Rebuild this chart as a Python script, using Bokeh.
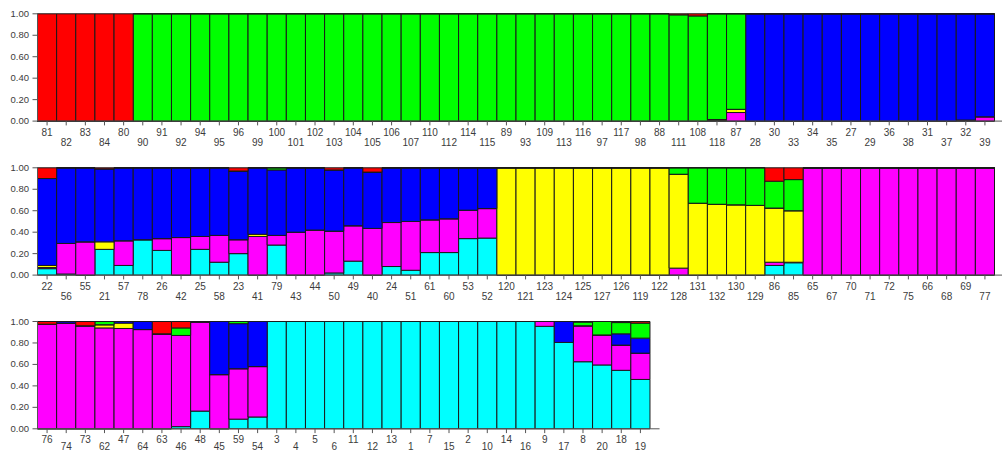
from bokeh.plotting import figure
from bokeh.models import ColumnDataSource, Range1d
from bokeh.layouts import column
from bokeh.embed import file_html
from bokeh.resources import INLINE
from bokeh.core.properties import value

# ---------------- data ----------------
clusters = ["cyan", "magenta", "yellow", "blue", "green", "red"]
colors = ["#00FFFF", "#FF00FF", "#FFFF00", "#0000FF", "#00FF00", "#FF0000"]
y_ticks = [0.0, 0.2, 0.4, 0.6, 0.8, 1.0]
y_tick_labels = ["0.00", "0.20", "0.40", "0.60", "0.80", "1.00"]

# Row 1
labels1 = ["81", "82", "83", "84", "80", "90", "91", "92", "94", "95",
           "96", "99", "100", "101", "102", "103", "104", "105", "106", "107",
           "110", "112", "114", "115", "89", "93", "109", "113", "116", "97",
           "117", "98", "88", "111", "108", "118", "87", "28", "30", "33",
           "34", "35", "27", "29", "36", "38", "31", "37", "32", "39"]
r1_cyan = [0, 0, 0, 0, 0, 0, 0, 0, 0, 0,
           0, 0, 0, 0, 0, 0, 0, 0, 0, 0,
           0, 0, 0, 0, 0, 0, 0, 0, 0, 0,
           0, 0, 0, 0, 0, 0, 0, 0, 0, 0,
           0, 0, 0, 0, 0, 0, 0, 0, 0, 0]
r1_magenta = [0, 0, 0, 0, 0, 0, 0, 0, 0, 0,
              0, 0, 0, 0, 0, 0, 0, 0, 0, 0,
              0, 0, 0, 0, 0, 0, 0, 0, 0, 0,
              0, 0, 0, 0, 0, 0.005, 0.08, 0, 0, 0,
              0, 0, 0, 0, 0, 0, 0, 0, 0.01, 0.04]
r1_yellow = [0, 0, 0, 0, 0, 0, 0, 0, 0, 0,
             0, 0, 0, 0, 0, 0, 0, 0, 0, 0,
             0, 0, 0, 0, 0, 0, 0, 0, 0, 0,
             0, 0, 0, 0, 0, 0.01, 0.03, 0, 0, 0,
             0, 0, 0, 0, 0, 0, 0, 0, 0, 0]
r1_blue = [0, 0, 0, 0, 0, 0, 0, 0, 0, 0,
           0, 0, 0, 0, 0, 0, 0, 0, 0, 0,
           0, 0, 0, 0, 0, 0, 0, 0, 0, 0,
           0, 0, 0, 0, 0, 0, 0, 1, 1, 1,
           1, 1, 1, 1, 1, 1, 1, 1, 0.99, 0.96]
r1_green = [0, 0, 0, 0, 0, 1, 1, 1, 1, 1,
            1, 1, 1, 1, 1, 1, 1, 1, 1, 1,
            1, 1, 1, 1, 1, 1, 1, 1, 1, 1,
            1, 1, 1, 0.99, 0.98, 0.985, 0.89, 0, 0, 0,
            0, 0, 0, 0, 0, 0, 0, 0, 0, 0]
r1_red = [1, 1, 1, 1, 1, 0, 0, 0, 0, 0,
          0, 0, 0, 0, 0, 0, 0, 0, 0, 0,
          0, 0, 0, 0, 0, 0, 0, 0, 0, 0,
          0, 0, 0, 0.01, 0.02, 0, 0, 0, 0, 0,
          0, 0, 0, 0, 0, 0, 0, 0, 0, 0]

# Row 2
labels2 = ["22", "56", "55", "21", "57", "78", "26", "42", "25", "58",
           "23", "41", "79", "43", "44", "50", "49", "40", "24", "51",
           "61", "60", "53", "52", "120", "121", "123", "124", "125", "127",
           "126", "119", "122", "128", "131", "132", "130", "129", "86", "85",
           "65", "67", "70", "71", "72", "75", "66", "68", "69", "77"]
r2_cyan = [0.06, 0.01, 0, 0.24, 0.09, 0.33, 0.23, 0, 0.24, 0.12,
           0.20, 0, 0.28, 0, 0, 0.02, 0.13, 0, 0.08, 0.045,
           0.21, 0.21, 0.34, 0.345, 0, 0, 0, 0, 0, 0,
           0, 0, 0, 0, 0, 0, 0, 0, 0.09, 0.115,
           0, 0, 0, 0, 0, 0, 0, 0, 0, 0]
r2_magenta = [0.01, 0.285, 0.31, 0, 0.23, 0, 0.11, 0.35, 0.12, 0.25,
              0.13, 0.36, 0.09, 0.40, 0.42, 0.39, 0.33, 0.435, 0.41, 0.455,
              0.305, 0.315, 0.265, 0.275, 0, 0, 0, 0, 0, 0,
              0, 0, 0, 0.065, 0, 0, 0, 0, 0.03, 0.005,
              1, 1, 1, 1, 1, 1, 1, 1, 1, 1]
r2_yellow = [0.02, 0, 0, 0.07, 0, 0, 0, 0, 0, 0,
             0, 0.02, 0, 0, 0, 0, 0, 0, 0, 0,
             0, 0, 0, 0, 1, 1, 1, 1, 1, 1,
             1, 1, 1, 0.875, 0.67, 0.66, 0.655, 0.65, 0.505, 0.48,
             0, 0, 0, 0, 0, 0, 0, 0, 0, 0]
r2_blue = [0.81, 0.705, 0.69, 0.68, 0.68, 0.67, 0.66, 0.65, 0.64, 0.63,
           0.64, 0.62, 0.61, 0.60, 0.58, 0.57, 0.54, 0.525, 0.51, 0.50,
           0.485, 0.475, 0.395, 0.38, 0, 0, 0, 0, 0, 0,
           0, 0, 0, 0, 0, 0, 0, 0, 0, 0,
           0, 0, 0, 0, 0, 0, 0, 0, 0, 0]
r2_green = [0, 0, 0, 0, 0, 0, 0, 0, 0, 0,
            0, 0, 0.02, 0, 0, 0, 0, 0, 0, 0,
            0, 0, 0, 0, 0, 0, 0, 0, 0, 0,
            0, 0, 0, 0.06, 0.33, 0.34, 0.345, 0.35, 0.25, 0.29,
            0, 0, 0, 0, 0, 0, 0, 0, 0, 0]
r2_red = [0.10, 0, 0, 0.01, 0, 0, 0, 0, 0, 0,
          0.03, 0, 0, 0, 0, 0.02, 0, 0.04, 0, 0,
          0, 0, 0, 0, 0, 0, 0, 0, 0, 0,
          0, 0, 0, 0, 0, 0, 0, 0, 0.125, 0.11,
          0, 0, 0, 0, 0, 0, 0, 0, 0, 0]

# Row 3
labels3 = ["76", "74", "73", "62", "47", "64", "63", "46", "48", "45",
           "59", "54", "3", "4", "5", "6", "11", "12", "13", "1",
           "7", "15", "2", "10", "14", "16", "9", "17", "8", "20",
           "18", "19"]
r3_cyan = [0, 0, 0, 0, 0, 0, 0, 0.02, 0.165, 0,
           0.09, 0.11, 1, 1, 1, 1, 1, 1, 1, 1,
           1, 1, 1, 1, 1, 1, 0.955, 0.805, 0.625, 0.595,
           0.545, 0.46]
r3_magenta = [0.975, 0.985, 0.96, 0.94, 0.935, 0.925, 0.885, 0.85, 0.83, 0.505,
              0.47, 0.47, 0, 0, 0, 0, 0, 0, 0, 0,
              0, 0, 0, 0, 0, 0, 0.045, 0, 0.335, 0.28,
              0.235, 0.245]
r3_yellow = [0, 0, 0, 0.03, 0.05, 0, 0, 0, 0, 0,
             0, 0, 0, 0, 0, 0, 0, 0, 0, 0,
             0, 0, 0, 0, 0, 0, 0, 0, 0, 0,
             0, 0]
r3_blue = [0, 0.015, 0, 0, 0.015, 0.075, 0, 0, 0.005, 0.495,
           0.42, 0.42, 0, 0, 0, 0, 0, 0, 0, 0,
           0, 0, 0, 0, 0, 0, 0, 0.195, 0, 0,
           0.105, 0.14]
r3_green = [0, 0, 0, 0.03, 0, 0, 0, 0.07, 0, 0,
            0.02, 0, 0, 0, 0, 0, 0, 0, 0, 0,
            0, 0, 0, 0, 0, 0, 0, 0, 0.035, 0.125,
            0.105, 0.14]
r3_red = [0.025, 0, 0.04, 0, 0, 0, 0.115, 0.06, 0, 0,
          0, 0, 0, 0, 0, 0, 0, 0, 0, 0,
          0, 0, 0, 0, 0, 0, 0, 0, 0.005, 0,
          0.01, 0.015]

rows = [
    (labels1, [r1_cyan, r1_magenta, r1_yellow, r1_blue, r1_green, r1_red]),
    (labels2, [r2_cyan, r2_magenta, r2_yellow, r2_blue, r2_green, r2_red]),
    (labels3, [r3_cyan, r3_magenta, r3_yellow, r3_blue, r3_green, r3_red]),
]

# ---------------- layout ----------------
FIG_W = 1002
BAR_PX = 19.14          # pixel width of one bar
LEFT_PX = 37            # pixel position of the y axis inside the figure
UNIT_PX = 107.3         # pixels per 1.0 of membership
heights = [162, 154, 136]
tops = [13.3, 5.3, 5.0]  # gap between figure top and the 1.00 line
label_offsets = [(10.4, 20.4), (10.4, 20.4), (9.8, 17.6)]  # px below the 0 line
FONT = value("Liberation Sans")
TXT = "#3c3c3c"
AX = "#555555"

figs = []
for (labels, series), h, top, (off_up, off_lo) in zip(rows, heights, tops, label_offsets):
    n = len(labels)
    x0 = -LEFT_PX / BAR_PX
    x1 = (FIG_W - LEFT_PX) / BAR_PX
    y1 = 1 + top / UNIT_PX
    y0 = -(h - top - UNIT_PX) / UNIT_PX
    p = figure(width=FIG_W, height=h, x_range=Range1d(x0, x1), y_range=Range1d(y0, y1),
               x_axis_type=None, y_axis_type=None, output_backend="svg",
               toolbar_location=None, min_border=0, outline_line_color=None,
               background_fill_color="white", border_fill_color="white")

    data = {"x": [i + 0.5 for i in range(n)], "label": labels}
    for name, vals in zip(clusters, series):
        data[name] = vals
    src = ColumnDataSource(data)
    p.vbar_stack(clusters, x="x", width=1.0, color=colors, line_color="#1a1a1a",
                 line_width=1, source=src)

    # x axis line and ticks
    p.segment(x0=[0], y0=[0], x1=[n + 0.5], y1=[0], line_color=AX, line_width=1)
    tick_len = 4.3 / UNIT_PX
    p.segment(x0="x", y0=0, x1="x", y1=-tick_len, source=src, line_color=AX, line_width=1)

    # staggered labels
    up = ColumnDataSource({"x": data["x"][0::2], "label": labels[0::2]})
    lo = ColumnDataSource({"x": data["x"][1::2], "label": labels[1::2]})
    p.text(x="x", y=-off_up / UNIT_PX, text="label", source=up, text_font=FONT,
           text_font_size="10px", text_align="center", text_baseline="middle",
           text_color=TXT)
    p.text(x="x", y=-off_lo / UNIT_PX, text="label", source=lo, text_font=FONT,
           text_font_size="10px", text_align="center", text_baseline="middle",
           text_color=TXT)

    # y axis
    p.segment(x0=[0], y0=[0], x1=[0], y1=[1.005], line_color=AX, line_width=1)
    ysrc = ColumnDataSource({"y": y_ticks, "label": y_tick_labels})
    p.segment(x0=-5 / BAR_PX, y0="y", x1=0, y1="y", source=ysrc, line_color=AX, line_width=1)
    p.text(x=-8.5 / BAR_PX, y="y", text="label", source=ysrc, text_font=FONT,
           text_font_size="9.5px", text_align="right", text_baseline="middle",
           text_color=TXT)
    figs.append(p)

layout = column(*figs, spacing=0)
open("out.html", "w").write(file_html(layout, INLINE))
